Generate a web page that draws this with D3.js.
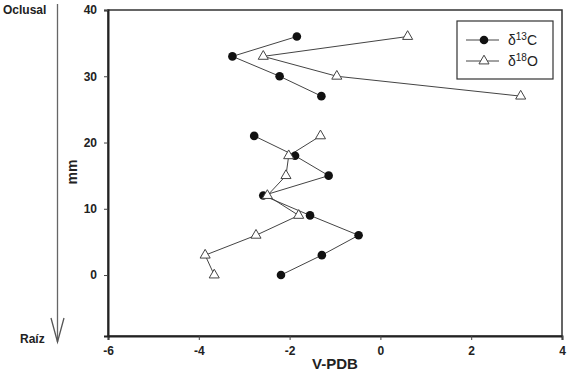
<!DOCTYPE html>
<html>
<head>
<meta charset="utf-8">
<script src="https://cdn.jsdelivr.net/npm/d3@7"></script>
<style>
  body { margin: 0; background: #fff; }
  text { font-family: "Liberation Sans", Arial, sans-serif; fill: #222; }
</style>
</head>
<body>
<div id="chart"></div>
<script>
const width = 576;
const height = 377;

// depth in mm (two runs, separated by a gap)
const depthTop = [36, 33, 30, 27];
const depthBottom = [21, 18, 15, 12, 9, 6, 3, 0];

// delta 13C values (V-PDB)
const carbonTop = [-1.84, -3.26, -2.22, -1.30];
const carbonBottom = [-2.78, -1.88, -1.14, -2.58, -1.55, -0.48, -1.29, -2.19];

// delta 18O values (V-PDB)
const oxygenTop = [0.60, -2.58, -0.96, 3.09];
const oxygenBottom = [-1.32, -2.02, -2.08, -2.49, -1.80, -2.74, -3.86, -3.66];

const xTicks = [-6, -4, -2, 0, 2, 4];
const yTicks = [0, 10, 20, 30, 40];

const margin = { top: 10, right: 14, bottom: 41, left: 108 };

const svg = d3.select("#chart").append("svg")
  .attr("width", width)
  .attr("height", height);

const x = d3.scaleLinear().domain([-6, 4]).range([margin.left, width - margin.right]);
const y = d3.scaleLinear().domain([-9.2, 40]).range([height - margin.bottom, margin.top]);

const zip = (xs, ys) => xs.map((v, i) => ({ v: v, d: ys[i] }));

const series = [
  { name: "13", marker: "circle", runs: [zip(carbonTop, depthTop), zip(carbonBottom, depthBottom)] },
  { name: "18", marker: "triangle", runs: [zip(oxygenTop, depthTop), zip(oxygenBottom, depthBottom)] }
];

// frame
svg.append("rect")
  .attr("x", x(-6)).attr("y", y(40))
  .attr("width", x(4) - x(-6)).attr("height", y(-9.2) - y(40))
  .attr("fill", "none").attr("stroke", "#333").attr("stroke-width", 1.5);

// axes (plain hyphen for negatives, like the original)
const fmt = (d) => String(d);
const xAxis = svg.append("g")
  .attr("transform", `translate(0,${y(-9.2)})`)
  .call(d3.axisBottom(x).tickValues(xTicks).tickFormat(fmt).tickSize(4).tickPadding(6));
const yAxis = svg.append("g")
  .attr("transform", `translate(${x(-6)},0)`)
  .call(d3.axisLeft(y).tickValues(yTicks).tickFormat(fmt).tickSize(4).tickPadding(7));

[xAxis, yAxis].forEach((g) => {
  g.select(".domain").attr("stroke", "#222").attr("stroke-width", 2);
  g.selectAll(".tick line").attr("stroke", "#444");
  g.selectAll(".tick text")
    .style("font-family", "'Liberation Sans', Arial, sans-serif")
    .style("font-size", "12px").style("font-weight", "bold").attr("fill", "#222");
});

// lines
const line = d3.line().x((p) => x(p.v)).y((p) => y(p.d));
series.forEach((s) => {
  s.runs.forEach((run) => {
    svg.append("path")
      .datum(run)
      .attr("d", line)
      .attr("fill", "none")
      .attr("stroke", "#444")
      .attr("stroke-width", 1);
  });
});

const tri = d3.symbol().type(d3.symbolTriangle).size(44);

// markers
series.forEach((s) => {
  const pts = s.runs.flat();
  if (s.marker === "circle") {
    svg.selectAll(null).data(pts).enter().append("circle")
      .attr("cx", (p) => x(p.v)).attr("cy", (p) => y(p.d))
      .attr("r", 4.3).attr("fill", "#111");
  } else {
    svg.selectAll(null).data(pts).enter().append("path")
      .attr("d", tri)
      .attr("transform", (p) => `translate(${x(p.v)},${y(p.d)})`)
      .attr("fill", "#fff").attr("stroke", "#444").attr("stroke-width", 1);
  }
});

// legend
const lg = svg.append("g");
lg.append("rect")
  .attr("x", 457).attr("y", 21).attr("width", 96).attr("height", 58)
  .attr("fill", "#fff").attr("stroke", "#333").attr("stroke-width", 1.2);
series.forEach((s, i) => {
  const ly = 40 + i * 21;
  lg.append("line").attr("x1", 466).attr("x2", 499).attr("y1", ly).attr("y2", ly)
    .attr("stroke", "#444");
  if (s.marker === "circle") {
    lg.append("circle").attr("cx", 484).attr("cy", ly).attr("r", 4.3).attr("fill", "#111");
  } else {
    lg.append("path").attr("d", tri).attr("transform", `translate(484,${ly})`)
      .attr("fill", "#fff").attr("stroke", "#444");
  }
  const t = lg.append("text").attr("x", 508).attr("y", ly + 5).style("font-size", "14px");
  t.append("tspan").text("\u03b4");
  t.append("tspan").attr("dy", -5).style("font-size", "10px").text(s.name);
  t.append("tspan").attr("dy", 5).text(i === 0 ? "C" : "O");
});

// axis titles
svg.append("text")
  .attr("x", 335).attr("y", 369)
  .attr("text-anchor", "middle")
  .style("font-size", "15px").style("font-weight", "bold")
  .text("V-PDB");
svg.append("text")
  .attr("transform", "translate(77,172) rotate(-90)")
  .attr("text-anchor", "middle")
  .style("font-size", "14px").style("font-weight", "bold")
  .text("mm");

// side arrow: oclusal -> raiz
svg.append("line")
  .attr("x1", 57.5).attr("x2", 57.5).attr("y1", 4).attr("y2", 342)
  .attr("stroke", "#666").attr("stroke-width", 1.3);
svg.append("path")
  .attr("d", "M51,318 L57.5,342 L64,318")
  .attr("fill", "none").attr("stroke", "#555").attr("stroke-width", 1.3);
svg.append("text")
  .attr("x", 3).attr("y", 14)
  .style("font-size", "12px").style("font-weight", "bold")
  .text("Oclusal");
svg.append("text")
  .attr("x", 20).attr("y", 343)
  .style("font-size", "12px").style("font-weight", "bold")
  .text("Raíz");
</script>
</body>
</html>
